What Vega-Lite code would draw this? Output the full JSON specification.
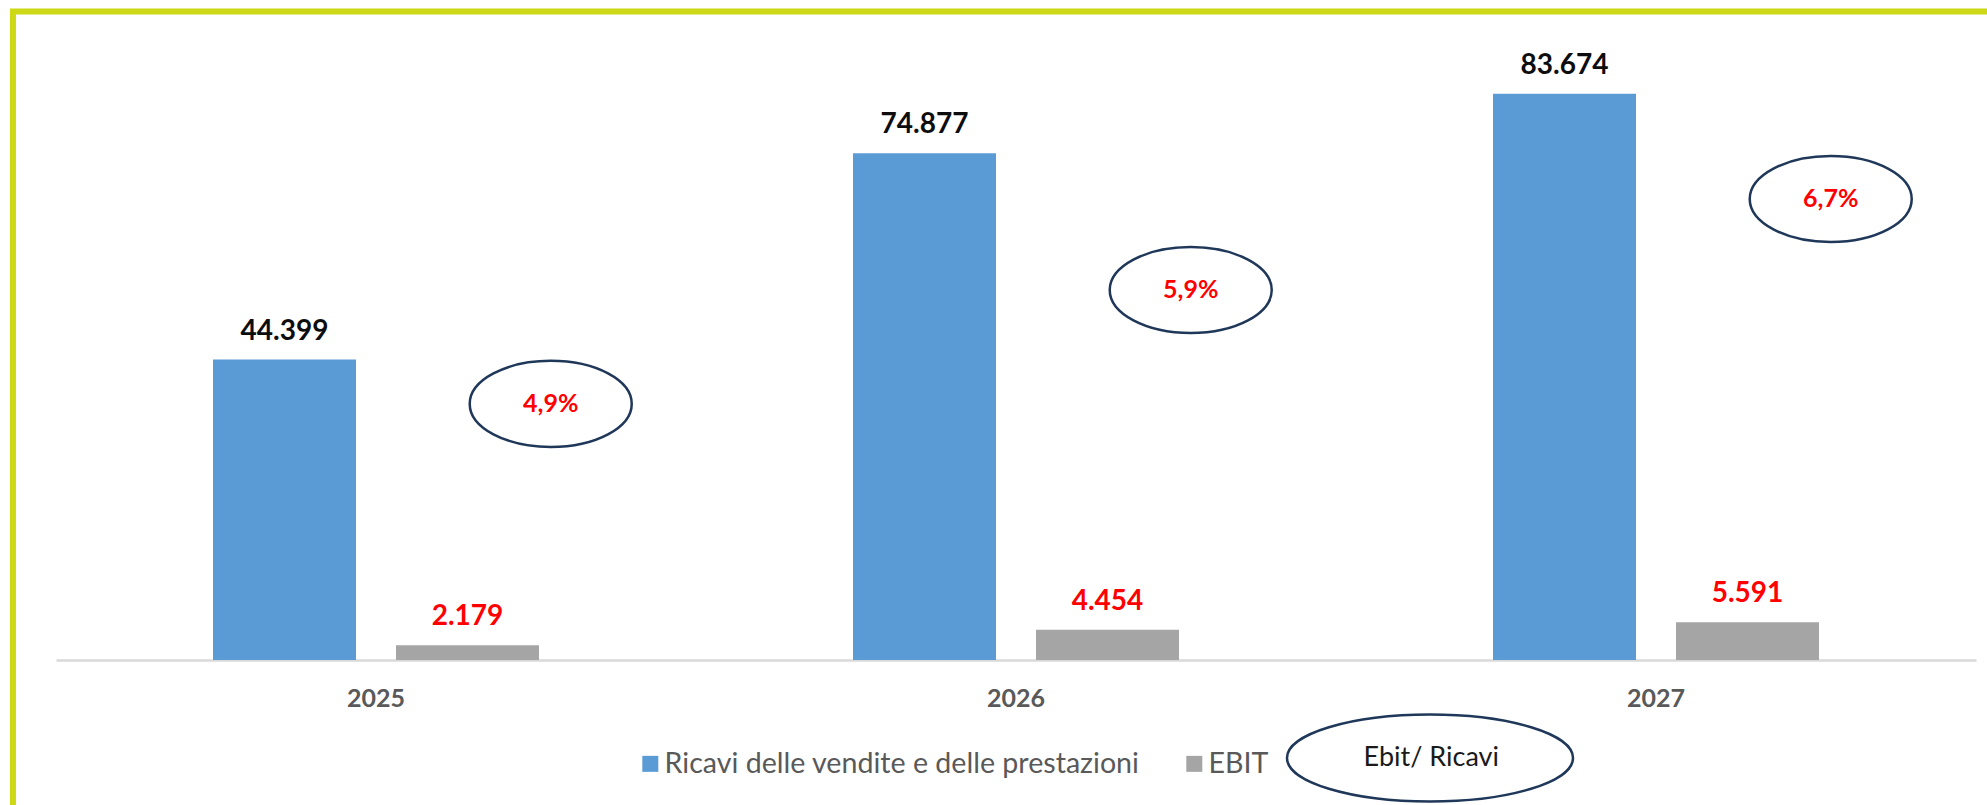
{
  "$schema": "https://vega.github.io/schema/vega-lite/v6.json",
  "width": 1977,
  "height": 796.5,
  "autosize": {"type": "none"},
  "padding": {"left": 13, "top": 11.5, "right": -3, "bottom": -3},
  "background": "white",
  "config": {
    "locale": {"number": {"decimal": ",", "thousands": ".", "grouping": [3], "currency": ["€", ""]}},
    "view": {"stroke": "#cdd816", "strokeWidth": 6},
    "font": "Lato"
  },
  "datasets": {
    "main": [
      {"year": "2025", "series": "Ricavi delle vendite e delle prestazioni", "value": 44399},
      {"year": "2025", "series": "EBIT", "value": 2179},
      {"year": "2026", "series": "Ricavi delle vendite e delle prestazioni", "value": 74877},
      {"year": "2026", "series": "EBIT", "value": 4454},
      {"year": "2027", "series": "Ricavi delle vendite e delle prestazioni", "value": 83674},
      {"year": "2027", "series": "EBIT", "value": 5591}
    ],
    "ratio": [
      {"year": "2025", "ratio": 0.049},
      {"year": "2026", "ratio": 0.059},
      {"year": "2027", "ratio": 0.067}
    ]
  },
  "layer": [
    {
      "data": {"name": "main"},
      "layer": [
        {
          "mark": {"type": "bar"},
          "encoding": {
            "x": {
              "field": "year", "type": "nominal",
              "scale": {"range": [43, 1963], "paddingInner": 0, "paddingOuter": 0},
              "axis": {"orient": "bottom", "offset": -148, "title": null, "ticks": false, "domainColor": "#d9d9d9", "domainWidth": 2.5, "labelFont": "Lato", "labelFontWeight": "bold", "labelFontSize": 25, "labelColor": "#595959", "labelPadding": 26, "labelAngle": 0}
            },
            "xOffset": {
              "field": "series", "type": "nominal",
              "sort": ["Ricavi delle vendite e delle prestazioni", "EBIT"],
              "scale": {"paddingInner": 0.2186, "paddingOuter": 0.858}
            },
            "y": {
              "field": "value", "type": "quantitative",
              "scale": {"domain": [0, 90000], "range": [648.5, 39.5], "nice": false},
              "axis": null
            },
            "color": {
              "field": "series", "type": "nominal",
              "sort": ["Ricavi delle vendite e delle prestazioni", "EBIT"],
              "scale": {"domain": ["Ricavi delle vendite e delle prestazioni", "EBIT"], "range": ["#5b9bd5", "#a5a5a5"]},
              "legend": {"orient": "none", "legendX": 623, "legendY": 738, "direction": "horizontal", "title": null, "symbolType": "square", "symbolSize": 256, "symbolStrokeWidth": 0, "labelFont": "Lato", "labelFontSize": 28.6, "labelColor": "#595959", "labelOffset": 0, "labelLimit": 700, "columnPadding": 40, "padding": 0}
            }
          }
        },
        {
          "mark": {"type": "text", "baseline": "alphabetic", "dy": -20, "fontSize": 28, "fontWeight": "bold", "font": "Lato"},
          "encoding": {
            "x": {"field": "year", "type": "nominal"},
            "xOffset": {"field": "series", "type": "nominal", "sort": ["Ricavi delle vendite e delle prestazioni", "EBIT"]},
            "y": {"field": "value", "type": "quantitative"},
            "text": {"field": "value", "type": "quantitative", "format": ",.0f"},
            "color": {"condition": {"test": "datum.series === 'EBIT'", "value": "#ff0000"}, "value": "#0d0d0d"}
          }
        }
      ]
    },
    {
      "data": {"name": "ratio"},
      "layer": [
        {
          "mark": {"type": "point", "shape": "M-1,0C-1,-0.2933,-0.5523,-0.531,0,-0.531C0.5523,-0.531,1,-0.2933,1,0C1,0.2933,0.5523,0.531,0,0.531C-0.5523,0.531,-1,0.2933,-1,0Z", "size": 26244, "filled": false, "strokeWidth": 2.5, "opacity": 1},
          "encoding": {
            "x": {"field": "year", "type": "nominal", "bandPosition": 0.773},
            "y": {
              "field": "ratio", "type": "quantitative",
              "scale": {"domain": [0.0265, 0.08], "range": [648.5, 39.5], "nice": false, "zero": false},
              "axis": null
            },
            "stroke": {
              "datum": "Ebit/ Ricavi",
              "scale": {"range": ["#1f3759"]},
              "legend": {"orient": "none", "legendX": 1272.5, "legendY": 602, "title": null, "symbolType": "M-1,0C-1,-0.1679,-0.5523,-0.304,0,-0.304C0.5523,-0.304,1,-0.1679,1,0C1,0.1679,0.5523,0.304,0,0.304C-0.5523,0.304,-1,0.1679,-1,0Z", "symbolSize": 81796, "symbolStrokeWidth": 2.5, "symbolFillColor": "transparent", "labelFont": "Lato", "labelFontSize": 27, "labelColor": "#1a1a1a", "labelOffset": -211, "labelLimit": 300, "padding": 0}
            }
          }
        },
        {
          "mark": {"type": "text", "fontSize": 25, "fontWeight": "bold", "font": "Lato", "color": "#ff0000", "baseline": "middle"},
          "encoding": {
            "x": {"field": "year", "type": "nominal", "bandPosition": 0.773},
            "y": {"field": "ratio", "type": "quantitative"},
            "text": {"field": "ratio", "type": "quantitative", "format": ".1%"}
          }
        }
      ]
    }
  ],
  "resolve": {"scale": {"y": "independent"}}
}
